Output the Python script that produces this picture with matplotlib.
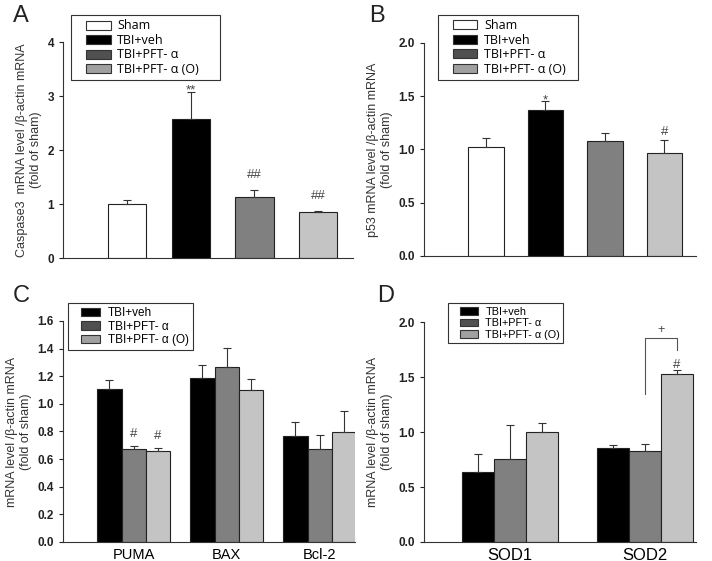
import matplotlib.pyplot as plt
from matplotlib.patches import Patch, Rectangle
from matplotlib.legend_handler import HandlerPatch
import numpy as np

plt.rcParams['font.family'] = ['Liberation Sans', 'DejaVu Sans']

# panel A: caspase3
groups_a = ['Sham', 'TBI+veh', 'TBI+PFT- α', 'TBI+PFT- α (O)']
casp3_mean = [1.01, 2.58, 1.13, 0.85]
casp3_err = [0.06, 0.50, 0.13, 0.02]
casp3_sig = ['', '**', '##', '##']

# panel B: p53
p53_mean = [1.02, 1.37, 1.08, 0.97]
p53_err = [0.09, 0.08, 0.075, 0.12]
p53_sig = ['', '*', '', '#']

# panel C: apoptosis genes
genes_c = ['PUMA', 'BAX', 'Bcl-2']
groups_c = ['TBI+veh', 'TBI+PFT- α', 'TBI+PFT- α (O)']
c_veh = [1.11, 1.19, 0.77]
c_pft = [0.675, 1.27, 0.67]
c_pfto = [0.655, 1.10, 0.795]
c_veh_err = [0.065, 0.09, 0.095]
c_pft_err = [0.02, 0.135, 0.105]
c_pfto_err = [0.025, 0.08, 0.15]
c_sig = [['', '#', '#'], ['', '', ''], ['', '', '']]

# panel D: SOD
genes_d = ['SOD1', 'SOD2']
d_veh = [0.64, 0.857]
d_pft = [0.754, 0.824]
d_pfto = [1.0, 1.526]
d_veh_err = [0.16, 0.023]
d_pft_err = [0.306, 0.063]
d_pfto_err = [0.085, 0.034]

bar_cols = ['white', 'black', '#808080', '#c4c4c4']
leg_cols = ['white', 'black', '#505050', '#a0a0a0']

fig = plt.figure(figsize=(7.12, 5.61), dpi=100)
axA = fig.add_axes([0.0885, 0.540, 0.407, 0.385])
axB = fig.add_axes([0.5955, 0.5437, 0.382, 0.380])
axC = fig.add_axes([0.0885, 0.0339, 0.410, 0.394])
axD = fig.add_axes([0.5955, 0.0339, 0.382, 0.392])


def style(ax):
    for s in ['top', 'right']:
        ax.spines[s].set_visible(False)
    for s in ['left', 'bottom']:
        ax.spines[s].set_linewidth(0.8)
        ax.spines[s].set_color('#333333')
    ax.tick_params(axis='y', direction='out', length=3, width=0.8,
                   labelsize=8.5, colors='#222222')
    ax.tick_params(axis='x', length=0)
    for t in ax.get_yticklabels():
        t.set_fontweight('bold')


def bars(ax, x, vals, errs, color, width):
    ax.bar(x, vals, width, color=color, edgecolor='#222222', linewidth=0.8)
    ax.errorbar(x, vals, yerr=[np.zeros(len(vals)), errs], fmt='none',
                ecolor='#333333', elinewidth=0.8, capsize=3, capthick=0.8)


def mark(ax, x, y, s, hash_off, fs=9.5):
    # asterisks sit right on the error bar, hashes float a little higher
    off = -1.5 if s.startswith('*') else hash_off
    ax.annotate(s, (x, y), xytext=(0, off), textcoords='offset points',
                ha='center', va='baseline', fontsize=fs, color='#444444')


def swatch(legend, orig_handle, xdescent, ydescent, width, height, fontsize):
    # swatch sits in the right part of the handle slot (indented like the original)
    return Rectangle((-xdescent + width * 0.3, -ydescent), width * 0.7, height)


def legend(ax, labels, cols, box, fs, hl, tp, family=None):
    handles = [Patch(facecolor=c, edgecolor='#333333', linewidth=0.8) for c in cols]
    lg = ax.legend(handles, labels, loc='upper left', bbox_to_anchor=box, mode='expand',
                   borderaxespad=0, fontsize=fs,
                   frameon=True, fancybox=False, edgecolor='#333333', framealpha=1,
                   handlelength=hl, handleheight=0.75, labelspacing=0.12,
                   borderpad=0.35, handletextpad=tp,
                   handler_map={Patch: HandlerPatch(patch_func=swatch)})
    lg.get_frame().set_linewidth(0.8)
    if family:
        for t in lg.get_texts():
            t.set_family(family)
    lg.set_zorder(5)


# A and B
for ax, mean, err, sig, ylim, yt, ylab, box, xl, hoff in [
        (axA, casp3_mean, casp3_err, casp3_sig, 4, [0, 1, 2, 3, 4],
         'Caspase3  mRNA level /β-actin mRNA\n(fold of sham)',
         (0.028, 1.125, 0.514, 0), (-1.0, 3.54), 9),
        (axB, p53_mean, p53_err, p53_sig, 2.0, [0.0, 0.5, 1.0, 1.5, 2.0],
         'p53 mRNA level /β-actin mRNA\n(fold of sham)',
         (0.051, 1.131, 0.515, 0), (-1.04, 3.53), 3.5)]:
    x = np.arange(4)
    for i in range(4):
        bars(ax, [x[i]], [mean[i]], [err[i]], bar_cols[i], 0.6)
        if sig[i]:
            mark(ax, x[i], mean[i] + err[i], sig[i], hoff)
    ax.set_ylim(0, ylim)
    ax.set_yticks(yt)
    ax.set_xlim(*xl)
    ax.set_xticks([])
    ax.set_ylabel(ylab, fontsize=9, color='#333333', labelpad=4)
    style(ax)
    legend(ax, groups_a, leg_cols, box, 9, 2.8, 0.55, family=['Open Sans', 'DejaVu Sans'])

axB.yaxis.set_major_formatter(plt.FormatStrFormatter('%.1f'))

# C
w = 0.26
xc = np.arange(3)
for k, (vals, errs) in enumerate([(c_veh, c_veh_err), (c_pft, c_pft_err), (c_pfto, c_pfto_err)]):
    bars(axC, xc + (k - 1) * w, vals, errs, bar_cols[k + 1], w)
    for j in range(3):
        if c_sig[j][k]:
            mark(axC, xc[j] + (k - 1) * w, vals[j] + errs[j], c_sig[j][k], 6.5)
axC.set_ylim(0, 1.6)
axC.set_yticks(np.arange(0, 1.61, 0.2))
axC.yaxis.set_major_formatter(plt.FormatStrFormatter('%.1f'))
axC.set_xlim(-0.76, 2.38)
axC.set_xticks(xc, genes_c)
axC.set_ylabel('mRNA level /β-actin mRNA\n(fold of sham)', fontsize=9,
               color='#333333', labelpad=4)
style(axC)
axC.tick_params(axis='x', labelsize=10.5, pad=4)
legend(axC, groups_c, leg_cols[1:], (0.017, 1.081, 0.428, 0), 8.5, 2.4, 0.6)

# D
w = 0.237
xd = np.arange(2)
for k, (vals, errs) in enumerate([(d_veh, d_veh_err), (d_pft, d_pft_err), (d_pfto, d_pfto_err)]):
    bars(axD, xd + (k - 1) * w, vals, errs, bar_cols[k + 1], w)
# SOD2 comparison bracket
bx0, bx1 = xd[1], xd[1] + w
axD.plot([bx0, bx0, bx1, bx1], [1.35, 1.855, 1.855, 1.75], color='#555555', lw=0.8)
axD.text((bx0 + bx1) / 2, 1.875, '+', ha='center', va='bottom', fontsize=9, color='#444444')
mark(axD, bx1, d_pfto[1] + d_pfto_err[1], '#', 2)
axD.set_ylim(0, 2.0)
axD.set_yticks([0.0, 0.5, 1.0, 1.5, 2.0])
axD.yaxis.set_major_formatter(plt.FormatStrFormatter('%.1f'))
axD.set_xlim(-0.64, 1.38)
axD.set_xticks(xd, genes_d)
axD.set_ylabel('mRNA level /β-actin mRNA\n(fold of sham)', fontsize=9,
               color='#333333', labelpad=4)
style(axD)
axD.tick_params(axis='x', labelsize=12, pad=4)
legend(axD, groups_c, leg_cols[1:], (0.088, 1.086, 0.423, 0), 7.8, 2.4, 0.7)

# panel letters
for lab, x, y in [('A', 0.018, 0.960), ('B', 0.518, 0.960), ('C', 0.018, 0.462), ('D', 0.530, 0.462)]:
    fig.text(x, y, lab, fontsize=17, color='#222222')

fig.savefig('out.png', dpi=100)
